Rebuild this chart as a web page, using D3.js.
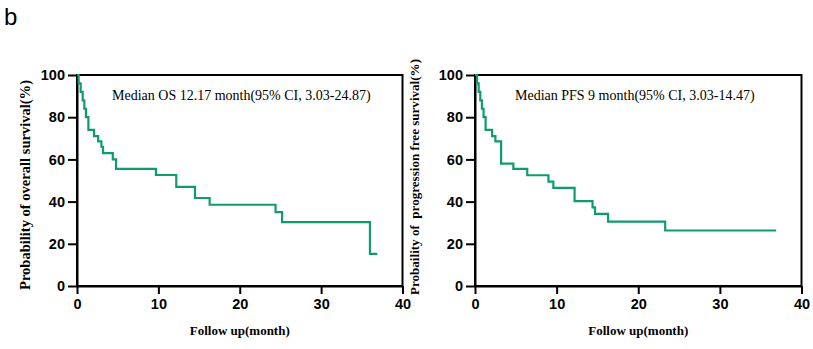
<!DOCTYPE html>
<html>
<head>
<meta charset="utf-8">
<script src="https://cdn.jsdelivr.net/npm/d3@7"></script>
<style>
  body { margin: 0; background: #fff; }
  svg { display: block; }
</style>
</head>
<body>
<svg id="fig" width="813" height="349"></svg>
<script>
// survival curves (month, % surviving)
var osTimes = [0, 0.2, 0.45, 0.7, 0.9, 1.1, 1.4, 2.1, 2.6, 3.0, 3.2, 4.4, 4.8, 9.7, 12.2, 14.5, 16.3, 24.4, 25.2, 36.0, 36.9];
var osSurv  = [100, 96, 92, 88, 84, 80, 74, 71, 68.5, 66, 63, 60, 55.5, 52.6, 47, 41.7, 38.5, 35, 30.3, 15.2, 15.2];

var pfsTimes = [0, 0.25, 0.45, 0.65, 0.85, 1.05, 1.3, 2.1, 2.5, 3.2, 4.7, 6.4, 9.0, 9.6, 12.2, 14.4, 14.7, 16.3, 23.3, 36.9];
var pfsSurv  = [100, 96, 92, 88, 84, 80, 74, 71, 68.5, 58, 55.5, 52.5, 49.5, 46.5, 40.2, 37.3, 34.2, 30.5, 26.3, 26.3];

var xTicks = [0, 10, 20, 30, 40];
var yTicks = [0, 20, 40, 60, 80, 100];

var lineColor = "#109b6e";
var svg = d3.select('#fig');

// panel letter
svg.append('text')
    .attr('x', 4).attr('y', 25)
    .style('font-family', '"Liberation Sans", Arial, sans-serif')
    .style('font-size', '24px')
    .text('b');

var drawPanel = function(opts) {

    var x = d3.scaleLinear().domain([0, 40]).range([opts.left, opts.right]);
    var y = d3.scaleLinear().domain([0, 100]).range([286, 75]);

    var g = svg.append('g');

    // box round the plot
    g.append('rect')
        .attr('x', x(0)).attr('y', y(100))
        .attr('width', x(40) - x(0)).attr('height', y(0) - y(100))
        .attr('fill', 'none')
        .attr('stroke', '#000')
        .attr('stroke-width', 2);

    var xAxis = g.append('g')
        .attr('transform', 'translate(0,' + y(0) + ')')
        .call(d3.axisBottom(x).tickValues(xTicks).tickSize(8).tickSizeOuter(0).tickPadding(5));

    var yAxis = g.append('g')
        .attr('transform', 'translate(' + x(0) + ',0)')
        .call(d3.axisLeft(y).tickValues(yTicks).tickSize(9).tickSizeOuter(0).tickPadding(3));

    [xAxis, yAxis].forEach(function(a){
        a.select('.domain').attr('stroke-width', 2);
        a.selectAll('.tick line').attr('stroke-width', 2);
        a.selectAll('.tick text')
            .style('font-family', '"Liberation Sans", Arial, sans-serif')
            .style('font-size', '14.5px')
            .style('font-weight', 'bold')
            .attr('fill', '#000');
    });

    // step curve
    var pts = opts.times.map(function(t, i){ return [t, opts.surv[i]]; });
    var line = d3.line()
        .x(function(d){ return x(d[0]); })
        .y(function(d){ return y(d[1]); })
        .curve(d3.curveStepAfter);

    g.append('path')
        .datum(pts)
        .attr('d', line)
        .attr('fill', 'none')
        .attr('stroke', lineColor)
        .attr('stroke-width', 2.2);

    // median note
    g.append('text')
        .attr('x', opts.noteX).attr('y', 100)
        .style('font-family', '"Liberation Serif", "Times New Roman", serif')
        .style('font-size', '14px')
        .text(opts.note);

    // axis titles
    g.append('text')
        .attr('x', (x(0) + x(40)) / 2).attr('y', 335)
        .attr('text-anchor', 'middle')
        .style('font-family', '"Liberation Serif", "Times New Roman", serif')
        .style('font-size', '13px')
        .style('font-weight', 'bold')
        .text('Follow up(month)');

    g.append('text')
        .attr('transform', 'translate(' + opts.titleX + ',' + opts.titleY + ') rotate(-90)')
        .attr('text-anchor', 'middle')
        .attr('textLength', opts.titleLen)
        .attr('lengthAdjust', 'spacingAndGlyphs')
        .style('font-family', '"Liberation Serif", "Times New Roman", serif')
        .style('font-size', opts.titleSize)
        .style('font-weight', 'bold')
        .style('white-space', 'pre')
        .text(opts.title);
};

drawPanel({
    left: 77, right: 402.5,
    times: osTimes, surv: osSurv,
    note: 'Median OS 12.17 month(95% CI, 3.03-24.87)', noteX: 112,
    title: 'Probability of overall survival(%)',
    titleX: 30, titleY: 185, titleLen: 210, titleSize: '14px'
});

drawPanel({
    left: 475, right: 801.5,
    times: pfsTimes, surv: pfsSurv,
    note: 'Median PFS 9 month(95% CI, 3.03-14.47)', noteX: 515,
    title: 'Probaility of  progression free survival(%)',
    titleX: 419, titleY: 177, titleLen: 236, titleSize: '13px'
});
</script>
</body>
</html>
